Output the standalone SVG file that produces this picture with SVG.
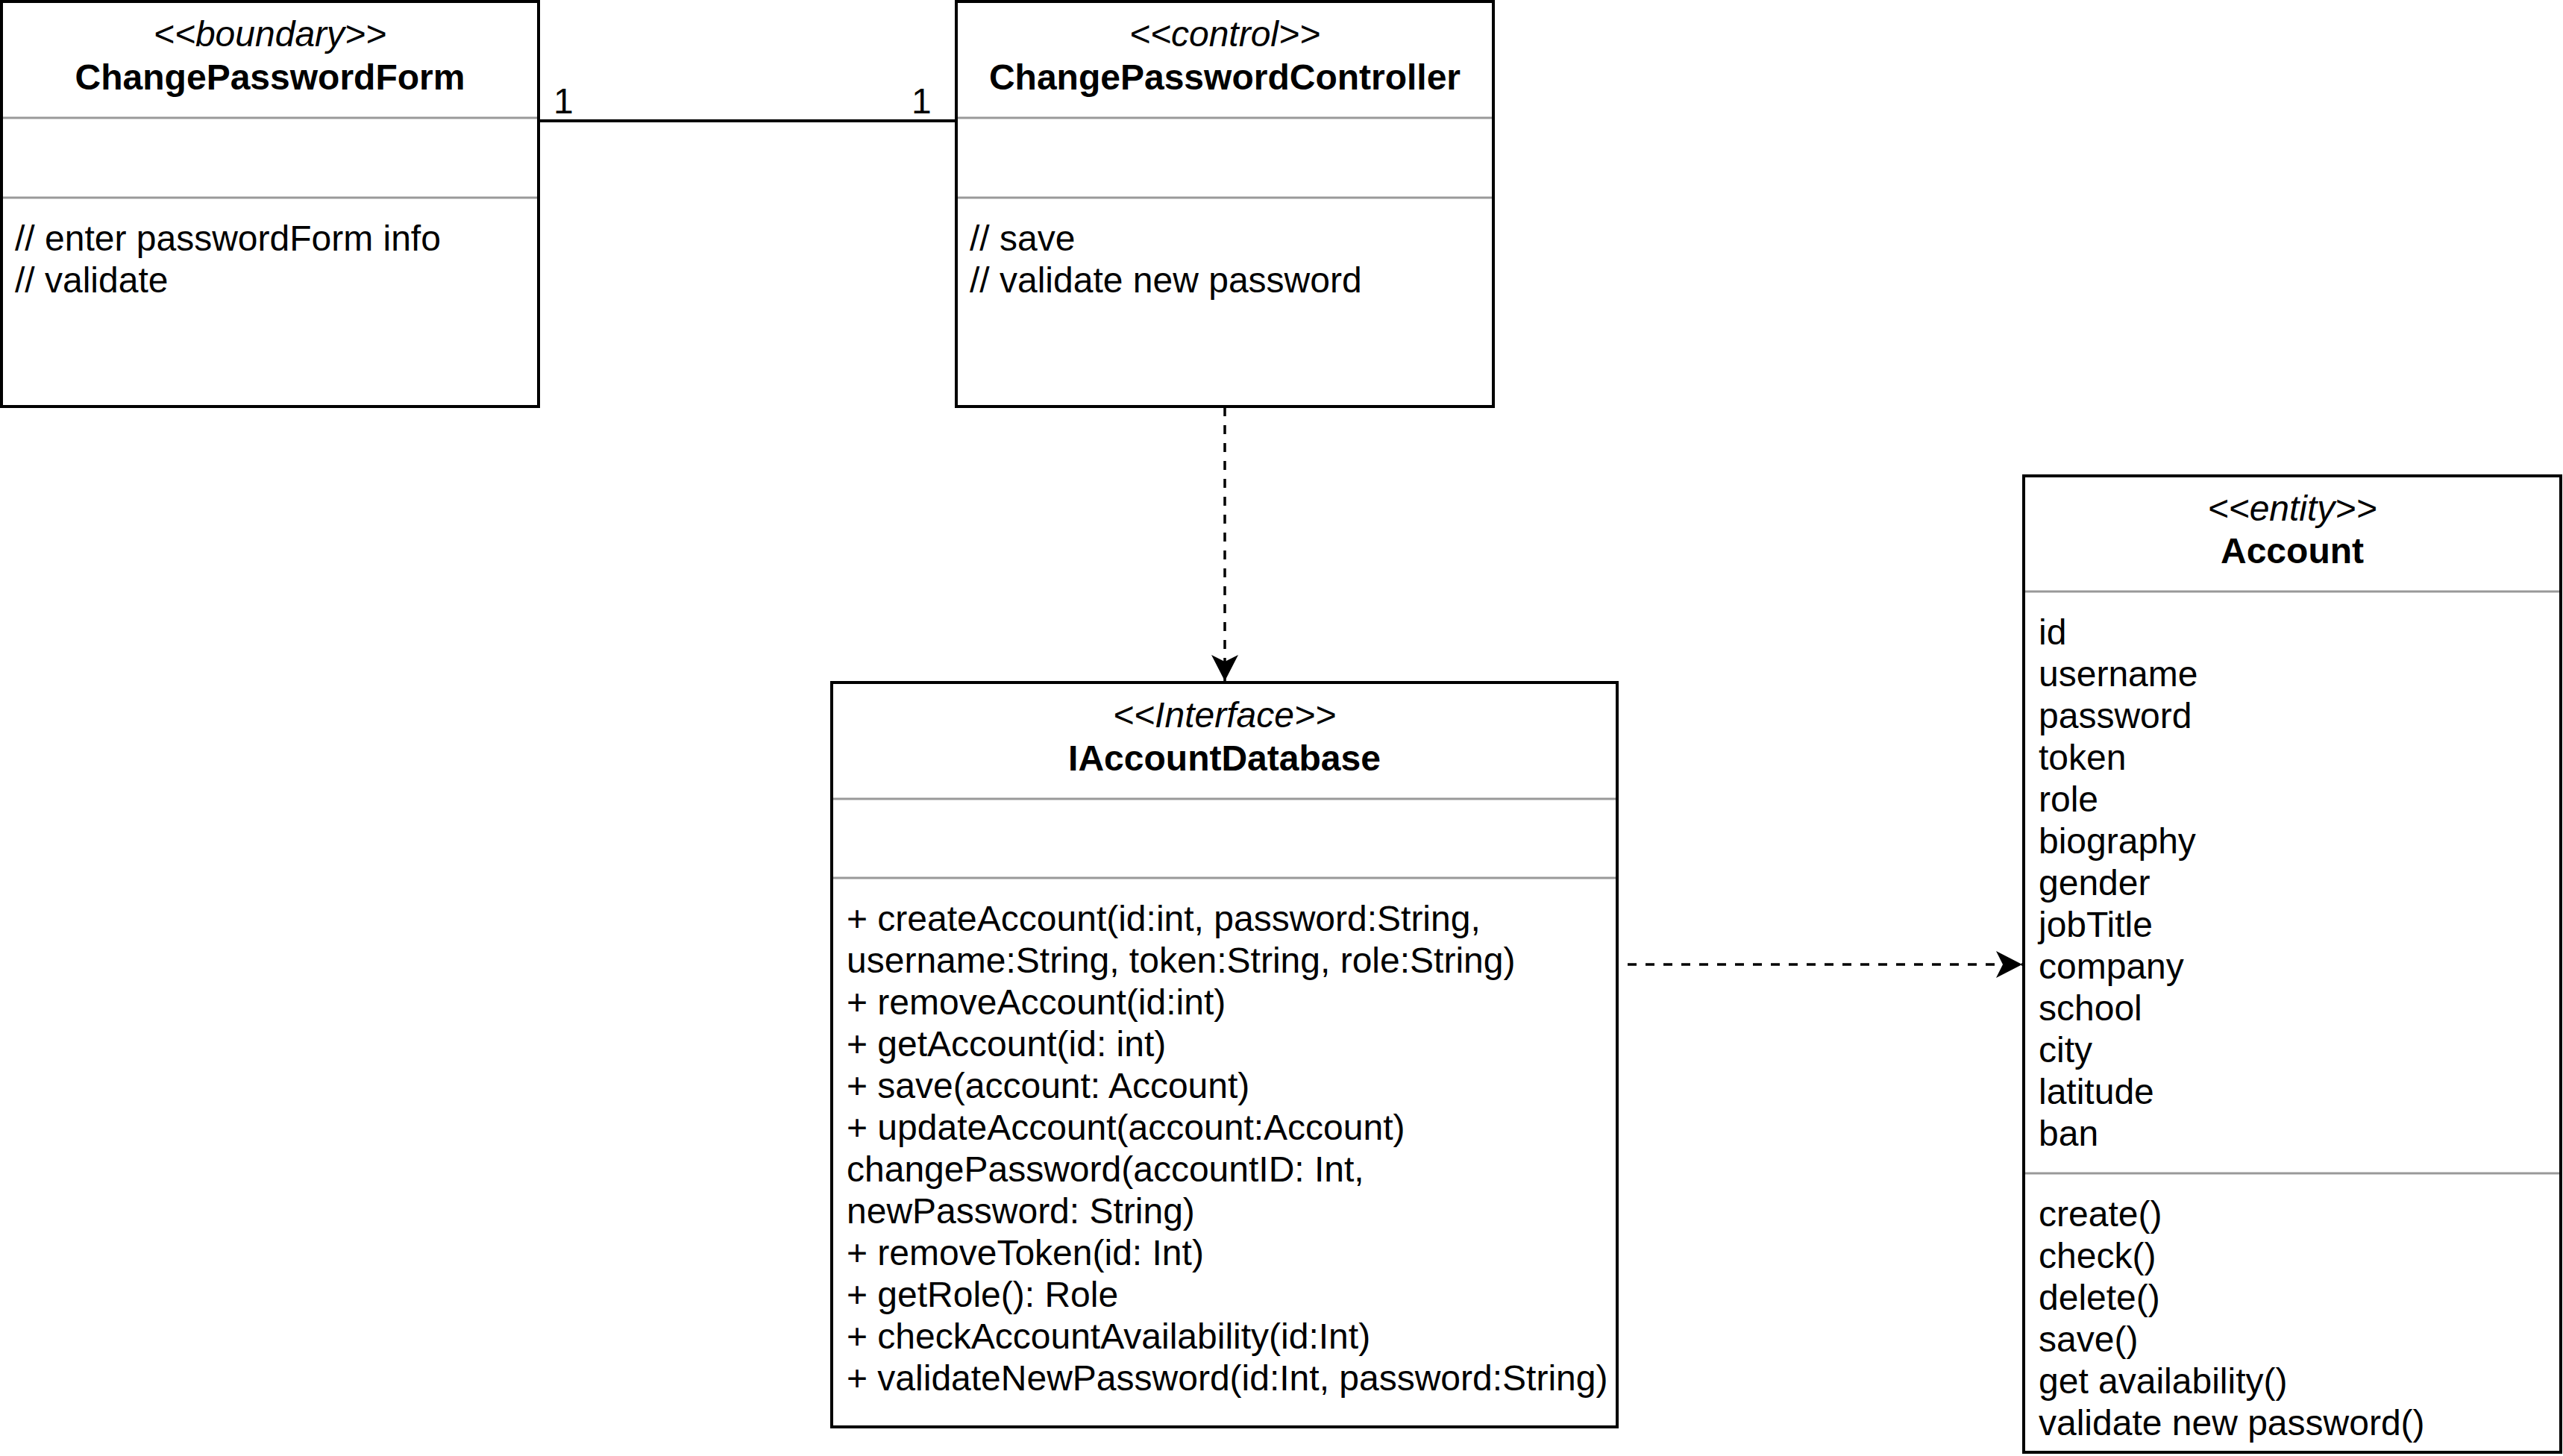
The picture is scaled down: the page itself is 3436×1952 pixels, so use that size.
<svg xmlns="http://www.w3.org/2000/svg" width="3436" height="1952" viewBox="0 0 3436 1952">
<style>
.box{fill:#fff;stroke:#000;stroke-width:4}
.sep{stroke:#999;stroke-width:3;fill:none}
text{font-family:"Liberation Sans",Arial,Helvetica,sans-serif;font-size:48px;fill:#000}
.st{font-style:italic;text-anchor:middle}
.nm{font-weight:bold;text-anchor:middle}
.dash{stroke:#000;stroke-width:3.5;fill:none;stroke-dasharray:12 12}
.assoc{stroke:#000;stroke-width:4;fill:none}
</style>
<defs>
<marker id="arr" markerUnits="userSpaceOnUse" markerWidth="36" markerHeight="36" refX="35" refY="18" orient="auto" viewBox="0 0 36 36">
<path d="M0,0 L35,18 L0,36 L9,18 Z" fill="#000"/>
</marker>
</defs>
<rect x="0" y="0" width="3436" height="1952" fill="#fff"/>
<g id="connectors">
<line class="assoc" x1="722" y1="162" x2="1282" y2="162"/>
<text x="742" y="152">1</text>
<text x="1222" y="152">1</text>
<line class="dash" x1="1642" y1="546" x2="1642" y2="913" marker-end="url(#arr)"/>
<line class="dash" x1="2182" y1="1293" x2="2711" y2="1293" marker-end="url(#arr)"/>
</g>
<g id="ChangePasswordForm">
<rect class="box" x="2" y="2" width="720" height="543"/>
<text class="st" x="362" y="62">&lt;&lt;boundary&gt;&gt;</text>
<text class="nm" x="362" y="120">ChangePasswordForm</text>
<line class="sep" x1="4" y1="158" x2="720" y2="158"/>
<line class="sep" x1="4" y1="265" x2="720" y2="265"/>
<text x="20" y="336">// enter passwordForm info</text>
<text x="20" y="392">// validate</text>
</g>
<g id="ChangePasswordController">
<rect class="box" x="1282" y="2" width="720" height="543"/>
<text class="st" x="1642" y="62">&lt;&lt;control&gt;&gt;</text>
<text class="nm" x="1642" y="120">ChangePasswordController</text>
<line class="sep" x1="1284" y1="158" x2="2000" y2="158"/>
<line class="sep" x1="1284" y1="265" x2="2000" y2="265"/>
<text x="1300" y="336">// save</text>
<text x="1300" y="392">// validate new password</text>
</g>
<g id="IAccountDatabase">
<rect class="box" x="1115" y="915" width="1053" height="998"/>
<text class="st" x="1641.5" y="975">&lt;&lt;Interface&gt;&gt;</text>
<text class="nm" x="1641.5" y="1033">IAccountDatabase</text>
<line class="sep" x1="1117" y1="1071" x2="2166" y2="1071"/>
<line class="sep" x1="1117" y1="1177" x2="2166" y2="1177"/>
<text x="1135" y="1248">+ createAccount(id:int, password:String,</text>
<text x="1135" y="1304">username:String, token:String, role:String)</text>
<text x="1135" y="1360">+ removeAccount(id:int)</text>
<text x="1135" y="1416">+ getAccount(id: int)</text>
<text x="1135" y="1472">+ save(account: Account)</text>
<text x="1135" y="1528">+ updateAccount(account:Account)</text>
<text x="1135" y="1584">changePassword(accountID: Int,</text>
<text x="1135" y="1640">newPassword: String)</text>
<text x="1135" y="1696">+ removeToken(id: Int)</text>
<text x="1135" y="1752">+ getRole(): Role</text>
<text x="1135" y="1808">+ checkAccountAvailability(id:Int)</text>
<text x="1135" y="1864">+ validateNewPassword(id:Int, password:String)</text>
</g>
<g id="Account">
<rect class="box" x="2713" y="638" width="720" height="1309"/>
<text class="st" x="3073" y="698">&lt;&lt;entity&gt;&gt;</text>
<text class="nm" x="3073" y="755">Account</text>
<line class="sep" x1="2715" y1="793" x2="3431" y2="793"/>
<text x="2733" y="864">id</text>
<text x="2733" y="920">username</text>
<text x="2733" y="976">password</text>
<text x="2733" y="1032">token</text>
<text x="2733" y="1088">role</text>
<text x="2733" y="1144">biography</text>
<text x="2733" y="1200">gender</text>
<text x="2733" y="1256">jobTitle</text>
<text x="2733" y="1312">company</text>
<text x="2733" y="1368">school</text>
<text x="2733" y="1424">city</text>
<text x="2733" y="1480">latitude</text>
<text x="2733" y="1536">ban</text>
<line class="sep" x1="2715" y1="1573" x2="3431" y2="1573"/>
<text x="2733" y="1644">create()</text>
<text x="2733" y="1700">check()</text>
<text x="2733" y="1756">delete()</text>
<text x="2733" y="1812">save()</text>
<text x="2733" y="1868">get availability()</text>
<text x="2733" y="1924">validate new password()</text>
</g>
</svg>
